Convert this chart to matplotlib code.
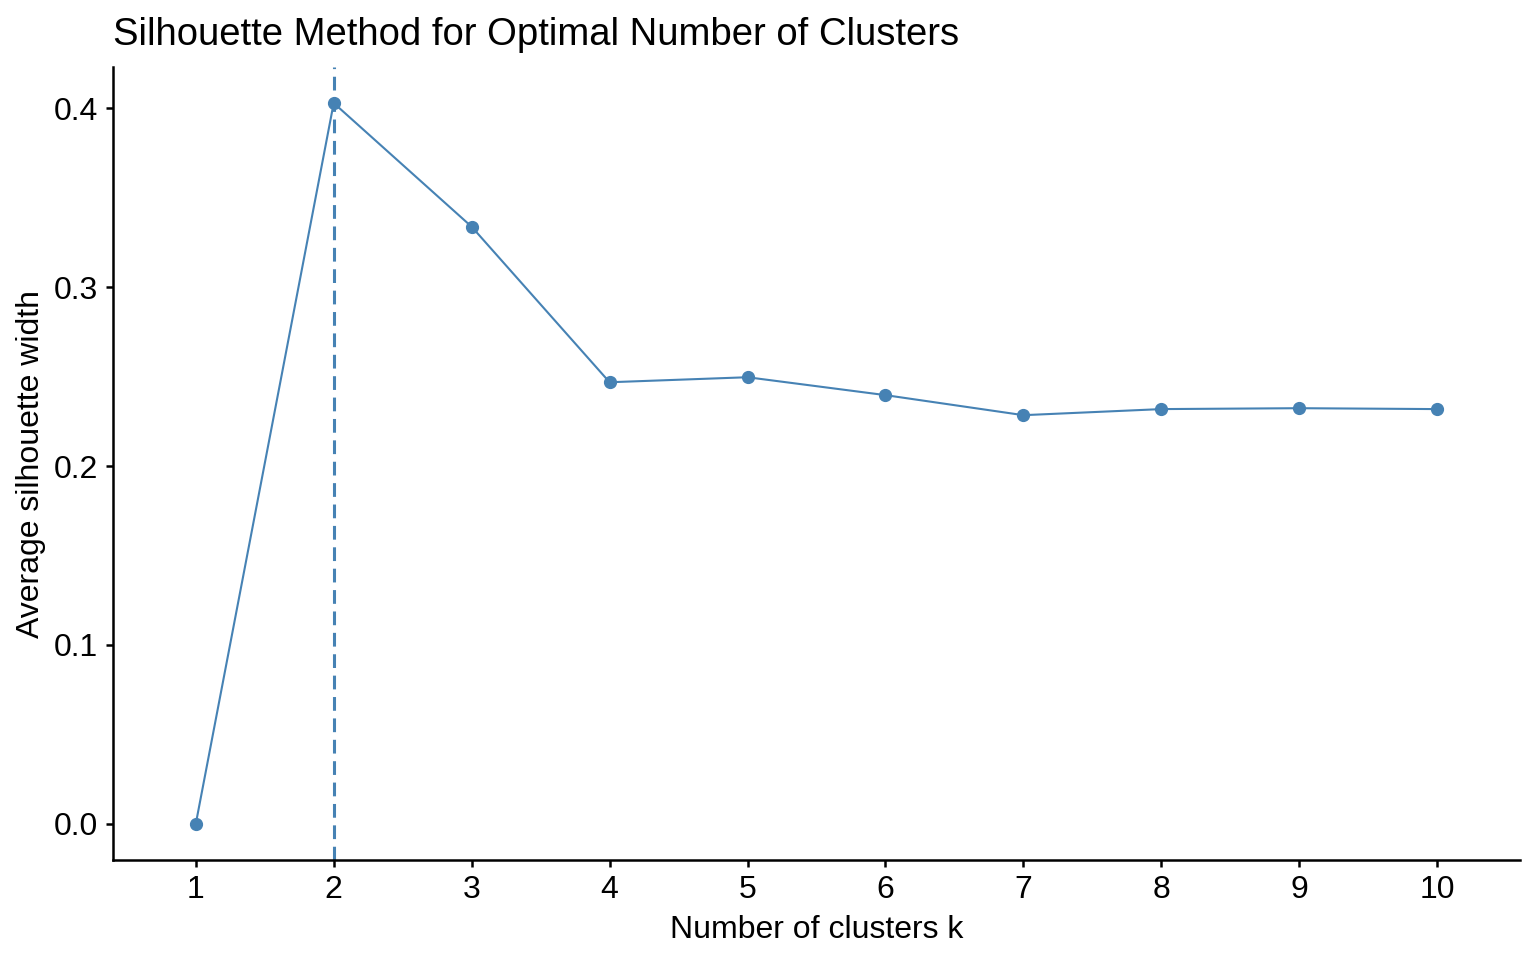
import matplotlib
matplotlib.use("Agg")
import matplotlib.pyplot as plt

# silhouette widths
k_values = [1, 2, 3, 4, 5, 6, 7, 8, 9, 10]
avg_silhouette = [0.0, 0.4028, 0.3337, 0.2468, 0.2496, 0.2396, 0.2284, 0.2318, 0.2323, 0.2318]
optimal_k = 2
y_ticks = [0.0, 0.1, 0.2, 0.3, 0.4]

plt.rcParams['font.family'] = ['Liberation Sans', 'DejaVu Sans']
color = '#4682B4'

fig = plt.figure(figsize=(15.36, 9.6), dpi=100)
ax = fig.add_axes([113/1536, 1 - 860/960, (1520-113)/1536, (860-67)/960])

ax.plot(k_values, avg_silhouette, color=color, linewidth=1.5,
        marker='o', markersize=8.5, zorder=3)
ax.axvline(optimal_k, color=color, linewidth=2.2, linestyle=(0, (4.5, 2.5)), zorder=2)

# ggplot-style expansion
ax.set_xlim(k_values[0] - 0.6, k_values[-1] + 0.6)
span = max(avg_silhouette) - min(avg_silhouette)
ax.set_ylim(min(avg_silhouette) - 0.05 * span, max(avg_silhouette) + 0.05 * span)

ax.set_xticks(k_values)
ax.set_xticklabels([str(k) for k in k_values])
ax.set_yticks(y_ticks)
ax.set_yticklabels([f"{v:.1f}" for v in y_ticks])

for side in ['top', 'right']:
    ax.spines[side].set_visible(False)
for side in ['left', 'bottom']:
    ax.spines[side].set_linewidth(1.8)
ax.tick_params(axis='both', length=5, width=1.8, labelsize=23, pad=6)

ax.set_xlabel("Number of clusters k", fontsize=23, labelpad=7)
ax.set_ylabel("Average silhouette width", fontsize=23, labelpad=5)
ax.set_title("Silhouette Method for Optimal Number of Clusters",
             loc='left', fontsize=27.5, pad=16)

fig.savefig("out.png", dpi=100)
